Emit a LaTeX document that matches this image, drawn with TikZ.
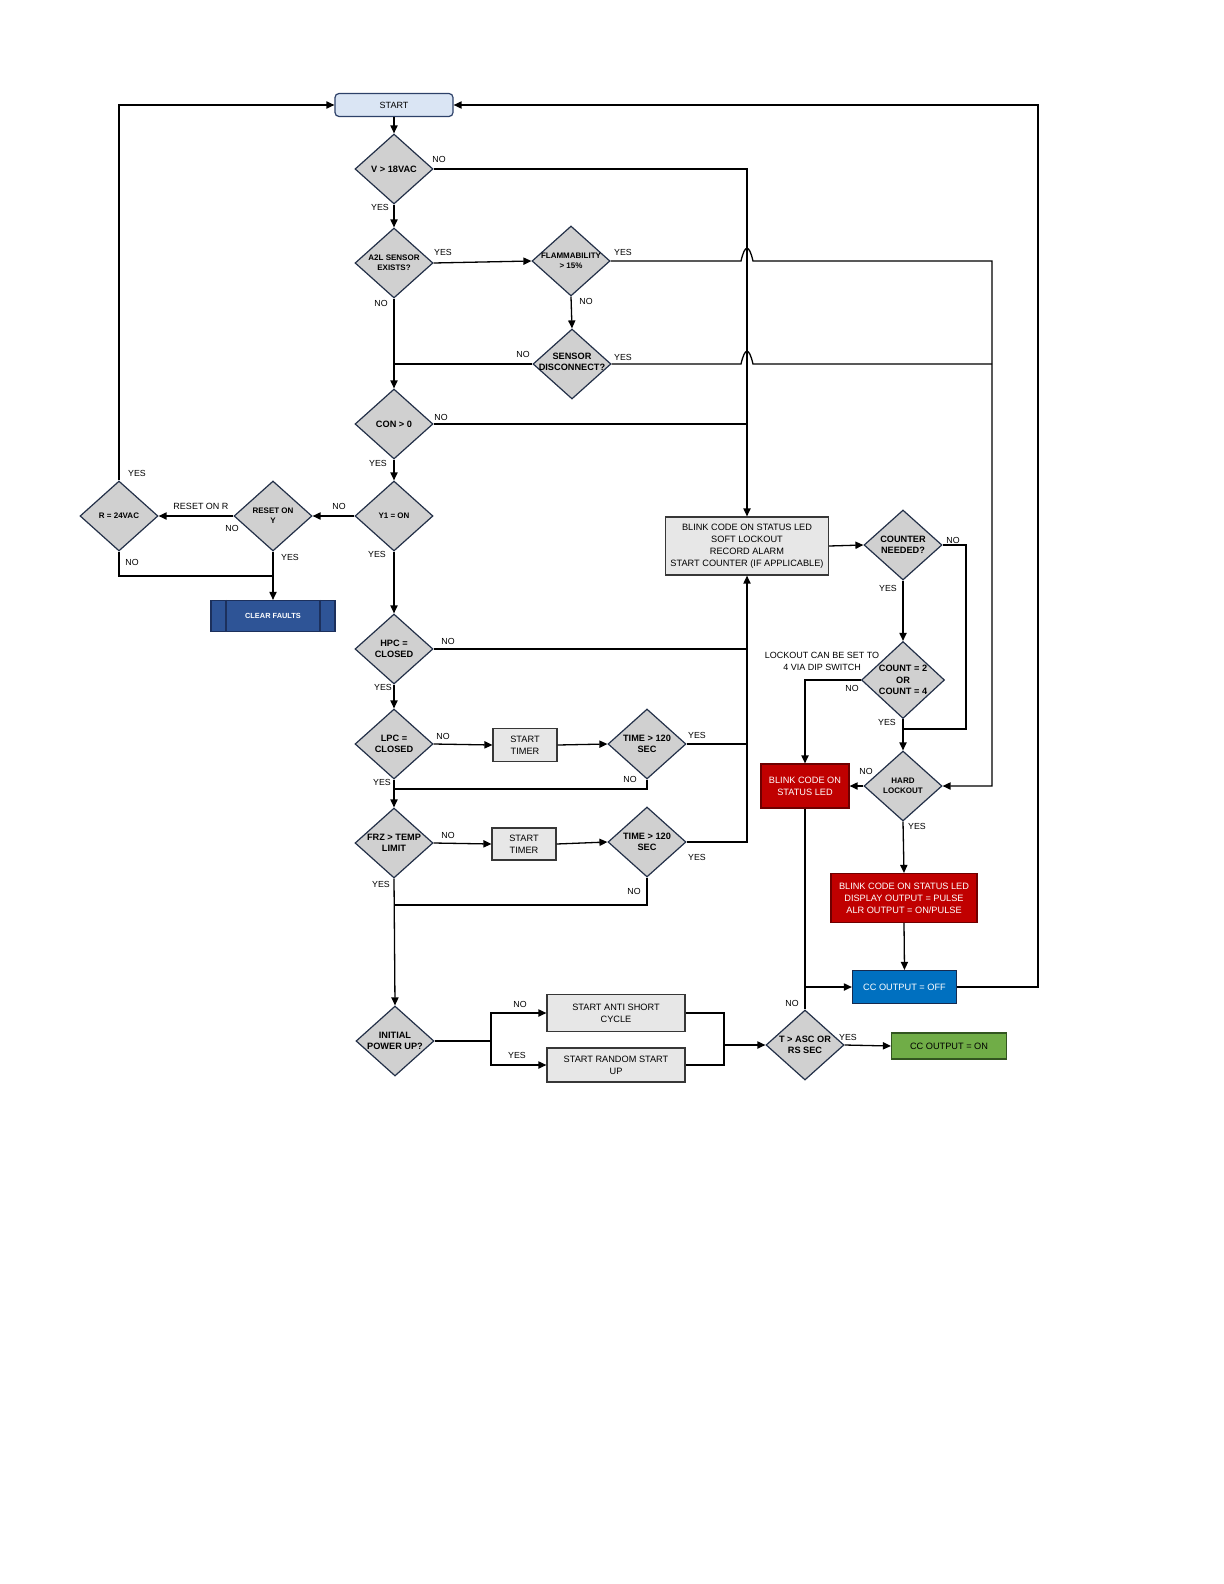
\documentclass[tikz,border=0pt]{standalone}
\usepackage{fontspec}
\setmainfont{Liberation Sans}
\usetikzlibrary{shapes.geometric, arrows.meta}
\definecolor{diaGray}{RGB}{208,208,208}
\definecolor{diaEdge}{RGB}{35,48,72}
\definecolor{boxGray}{RGB}{231,231,231}
\definecolor{boxEdge}{RGB}{55,55,55}
\definecolor{startBlue}{RGB}{218,229,244}
\definecolor{startEdge}{RGB}{45,65,105}
\definecolor{faultBlue}{RGB}{46,84,150}
\definecolor{faultEdge}{RGB}{28,48,92}
\definecolor{alarmRed}{RGB}{192,0,0}
\definecolor{alarmEdge}{RGB}{110,0,0}
\definecolor{offBlue}{RGB}{0,112,192}
\definecolor{offEdge}{RGB}{22,42,78}
\definecolor{onGreen}{RGB}{112,173,71}
\definecolor{onEdge}{RGB}{50,85,32}

\tikzset{
  decision/.style={diamond, draw=diaEdge, fill=diaGray, line width=0.6pt,
    minimum width=39pt, minimum height=35pt, inner sep=0pt},
  dtext/.style={font=\fontsize{4.6}{5.6}\selectfont\bfseries, align=center, inner sep=0pt},
  dsmall/.style={font=\fontsize{4}{5}\selectfont\bfseries, align=center, inner sep=0pt},
  process/.style={rectangle, draw=boxEdge, fill=boxGray, line width=0.6pt,
    inner sep=0pt, align=center, font=\fontsize{4.6}{6}\selectfont},
  flow/.style={line width=0.65pt, -{Triangle[length=4pt,width=3.6pt]}},
  wire/.style={line width=0.65pt},
  lbl/.style={font=\fontsize{4.4}{5.8}\selectfont, inner sep=0pt, align=center}
}

\begin{document}
\begin{tikzpicture}[x=0.5pt, y=-0.5pt]
  \useasboundingbox (0,0) rectangle (1224,1584);

  % Start
  \node[rectangle, rounded corners=2pt, draw=startEdge, fill=startBlue, line width=0.6pt,
    minimum width=59pt, minimum height=11.5pt, inner sep=0pt,
    font=\fontsize{4.5}{5.5}\selectfont] (start) at (394,105) {START};

  % Main column
  \node[decision, label={[dtext]center:V > 18VAC}] (v18) at (394,169) {};
  \node[decision, label={[dsmall]center:A2L SENSOR\\EXISTS?}] (a2l) at (394,263) {};
  \node[decision, label={[dsmall]center:FLAMMABILITY\\> 15\%}] (flam) at (571,261) {};
  \node[decision, label={[dtext, yshift=1pt]center:SENSOR\\DISCONNECT?}] (sensor) at (572,364) {};
  \node[decision, label={[dtext]center:CON > 0}] (con) at (394,424) {};
  \node[decision, label={[dsmall]center:Y1 = ON}] (y1) at (394,516) {};
  \node[decision, label={[dsmall]center:RESET ON\\Y}] (resety) at (273,516) {};
  \node[decision, label={[dsmall]center:R = 24VAC}] (r24) at (119,516) {};
  \node[decision, label={[dtext]center:HPC =\\CLOSED}] (hpc) at (394,649) {};
  \node[decision, label={[dtext]center:LPC =\\CLOSED}] (lpc) at (394,744) {};
  \node[decision, label={[dtext]center:FRZ > TEMP\\LIMIT}] (frz) at (394,843) {};
  \node[decision, label={[dtext]center:INITIAL\\POWER UP?}] (initial) at (395,1041) {};

  % Clear faults
  \node[rectangle, draw=faultEdge, fill=faultBlue, line width=0.6pt, minimum width=62pt,
    minimum height=15.5pt, inner sep=0pt, text=white,
    font=\fontsize{3.7}{4.5}\selectfont\bfseries] (clear) at (273,616) {CLEAR FAULTS};
  \draw[faultEdge, line width=0.6pt] ([xshift=7.8pt]clear.north west) -- ([xshift=7.8pt]clear.south west);
  \draw[faultEdge, line width=0.6pt] ([xshift=-7.8pt]clear.north east) -- ([xshift=-7.8pt]clear.south east);

  % Timers
  \node[process, minimum width=32pt, minimum height=16.5pt] (timer1) at (525,745) {START\\TIMER};
  \node[decision, label={[dtext]center:TIME > 120\\SEC}] (time1) at (647,744) {};
  \node[process, minimum width=32pt, minimum height=16pt] (timer2) at (524,844) {START\\TIMER};
  \node[decision, label={[dtext]center:TIME > 120\\SEC}] (time2) at (647,842) {};

  % Start up
  \node[process, minimum width=69pt, minimum height=18.5pt] (antishort) at (616,1013) {START ANTI SHORT\\CYCLE};
  \node[process, minimum width=69pt, minimum height=17pt] (random) at (616,1065) {START RANDOM START\\UP};
  \node[decision, label={[dtext]center:T > ASC OR\\RS SEC}] (tasc) at (805,1045) {};

  % Outputs
  \node[process, draw=onEdge, fill=onGreen, minimum width=57.5pt, minimum height=13pt] (ccon) at (949,1046) {CC OUTPUT = ON};
  \node[process, draw=offEdge, fill=offBlue, text=white, minimum width=52pt, minimum height=16.5pt] (ccoff) at (904.5,987) {CC OUTPUT = OFF};

  % Lockout side
  \node[process, minimum width=81.5pt, minimum height=29pt] (soft) at (747,546)
    {BLINK CODE ON STATUS LED\\SOFT LOCKOUT\\RECORD ALARM\\START COUNTER (IF APPLICABLE)};
  \node[decision, label={[dtext]center:COUNTER\\NEEDED?}] (counter) at (903,545) {};
  \node[decision, minimum width=41.5pt, minimum height=38.5pt,
    label={[dtext]center:COUNT = 2\\OR\\COUNT = 4}] (count) at (903,680) {};
  \node[decision, label={[dsmall]center:HARD\\LOCKOUT}] (hard) at (903,786) {};
  \node[process, draw=alarmEdge, fill=alarmRed, text=white, minimum width=44pt, minimum height=22pt] (blinkled) at (805,786)
    {BLINK CODE ON\\STATUS LED};
  \node[process, draw=alarmEdge, fill=alarmRed, text=white, minimum width=73pt, minimum height=24.5pt] (hardbox) at (904,898)
    {BLINK CODE ON STATUS LED\\DISPLAY OUTPUT = PULSE\\ALR OUTPUT = ON/PULSE};
  \node[lbl, font=\fontsize{4.5}{5.8}\selectfont] (dipnote) at (822,661.5) {LOCKOUT CAN BE SET TO\\4 VIA DIP SWITCH};

  % Connectors, main column
  \draw[flow] (start.south) -- (v18.north);
  \draw[flow] (v18.south) -- (a2l.north);
  \draw[flow] (a2l.east) -- (flam.west);
  \draw[flow] (flam.south) -- (sensor.north);
  \draw[wire] (sensor.west) -- (sensor.west -| a2l.south);
  \draw[flow] (a2l.south) -- (con.north);
  \draw[flow] (con.south) -- (y1.north);
  \draw[flow] (y1.west) -- (resety.east);
  \draw[flow] (resety.west) -- (r24.east);
  \draw[flow] (r24.north) |- (start.west);
  \draw[wire] (r24.south) |- (273,576);
  \draw[flow] (resety.south) -- (clear.north);
  \draw[flow] (y1.south) -- (hpc.north);
  \draw[flow] (hpc.south) -- (lpc.north);
  \draw[flow] (lpc.east) -- (timer1.west);
  \draw[flow] (timer1.east) -- (time1.west);
  \draw[wire] (time1.south) |- (394,789);
  \draw[flow] (lpc.south) -- (frz.north);
  \draw[flow] (frz.east) -- (timer2.west);
  \draw[flow] (timer2.east) -- (time2.west);
  \draw[wire] (time2.south) |- (394,905);
  \draw[flow] (frz.south) -- (initial.north);

  % Connectors into soft lockout
  \draw[flow] (v18.east) -| (soft.north);
  \draw[wire] (con.east) -- (con.east -| soft.north);
  \draw[flow] (time2.east) -| (soft.south);
  \draw[wire] (hpc.east) -- (hpc.east -| soft.south);
  \draw[wire] (time1.east) -- (time1.east -| soft.south);

  % Sensor lines with hops
  \draw[flow] (flam.east) -- (741,261) .. controls (745,244) and (749,244) .. (753,261)
    -- (992,261) |- (hard.east);
  \draw[wire] (sensor.east) -- (741,364) .. controls (745,347) and (749,347) .. (753,364) -- (992,364);

  % Lockout counting
  \draw[flow] (soft.east) -- (counter.west);
  \draw[flow] (counter.south) -- (count.north);
  \draw[wire] (counter.east) -| (966,729) -- (903,729);
  \draw[flow] (count.west) -| (blinkled.north);
  \draw[flow] (count.south) -- (hard.north);
  \draw[flow] (hard.west) -- (blinkled.east);
  \draw[flow] (hard.south) -- (hardbox.north);
  \draw[flow] (hardbox.south) -- (ccoff.north);
  \draw[wire] (blinkled.south) -- (tasc.north);
  \coordinate (offjoin) at (805,987);
  \draw[flow] (offjoin) -- (ccoff.west);
  \draw[flow] (ccoff.east) -| (1038,105) -- (start.east);

  % Start up branches
  \coordinate (split) at (491,1041);
  \coordinate (merge) at (724,1045);
  \draw[wire] (initial.east) -- (split);
  \draw[flow] (split) |- (antishort.west);
  \draw[flow] (split) |- (random.west);
  \draw[wire] (antishort.east) -| (merge);
  \draw[wire] (random.east) -| (merge);
  \draw[flow] (merge) -- (tasc.west);
  \draw[flow] (tasc.east) -- (ccon.west);

  % Labels
  \node[lbl] (nov18) at (439,159) {NO};
  \node[lbl] (yesv18) at (380,207) {YES};
  \node[lbl] (yesa2l) at (443,252) {YES};
  \node[lbl] (noa2l) at (381,303) {NO};
  \node[lbl] (yesflam) at (623,252) {YES};
  \node[lbl] (noflam) at (586,301) {NO};
  \node[lbl] (nosensor) at (523,354) {NO};
  \node[lbl] (yessensor) at (623,357) {YES};
  \node[lbl] (nocon) at (441,417) {NO};
  \node[lbl] (yescon) at (378,463) {YES};
  \node[lbl] (noy1) at (339,506) {NO};
  \node[lbl] (yesy1) at (377,554) {YES};
  \node[lbl] (yesresety) at (290,557) {YES};
  \node[lbl] (noresety) at (232,528) {NO};
  \node[lbl] (yesr24) at (137,473) {YES};
  \node[lbl] (nor24) at (132,562) {NO};
  \node[lbl, font=\fontsize{4.5}{5.8}\selectfont] (resetr) at (201,506) {RESET ON R};
  \node[lbl] (nohpc) at (448,641) {NO};
  \node[lbl] (yeshpc) at (383,687) {YES};
  \node[lbl] (nolpc) at (443,736) {NO};
  \node[lbl] (yeslpc) at (382,782) {YES};
  \node[lbl] (yestime1) at (697,735) {YES};
  \node[lbl] (notime1) at (630,779) {NO};
  \node[lbl] (nofrz) at (448,835) {NO};
  \node[lbl] (yesfrz) at (381,884) {YES};
  \node[lbl] (yestime2) at (697,857) {YES};
  \node[lbl] (notime2) at (634,891) {NO};
  \node[lbl] (nocounter) at (953,540) {NO};
  \node[lbl] (yescounter) at (888,588) {YES};
  \node[lbl] (nocount) at (852,688) {NO};
  \node[lbl] (yescount) at (887,722) {YES};
  \node[lbl] (nohard) at (866,771) {NO};
  \node[lbl] (yeshard) at (917,826) {YES};
  \node[lbl] (noinitial) at (520,1004) {NO};
  \node[lbl] (yesinitial) at (517,1055) {YES};
  \node[lbl] (notasc) at (792,1003) {NO};
  \node[lbl] (yestasc) at (848,1037) {YES};
\end{tikzpicture}
\end{document}
